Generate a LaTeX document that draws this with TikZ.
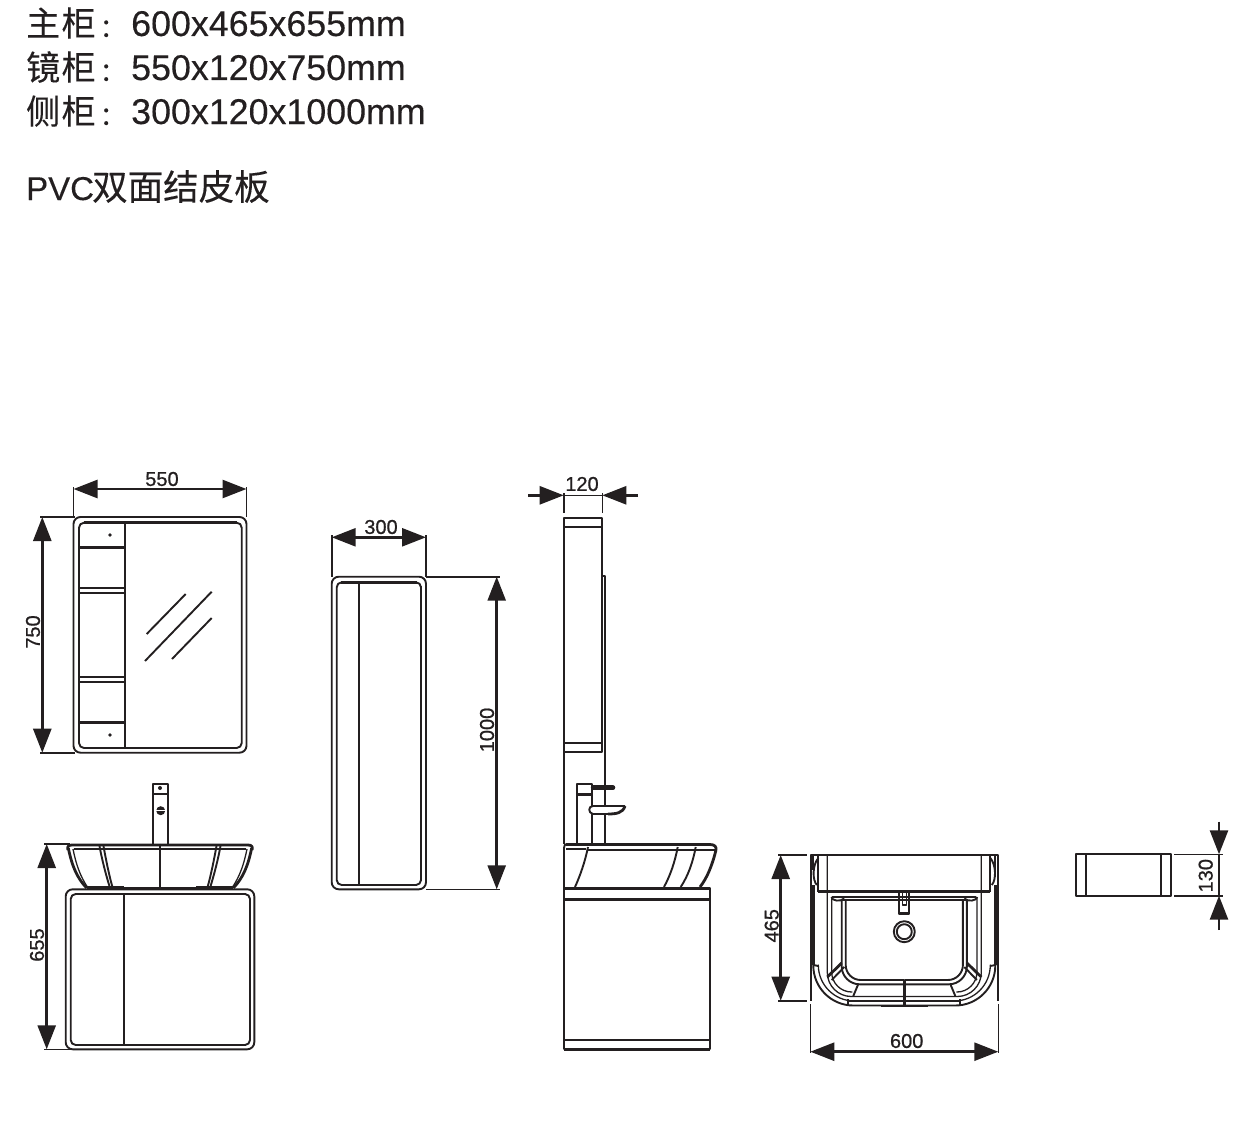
\documentclass[tikz,border=0pt]{standalone}
\usepackage{fontspec}
\usepackage{xcolor}
\setmainfont{Liberation Sans}
\newfontfamily\headfont[FakeBold=0.25]{Liberation Sans}
\newfontfamily\dimfont[FakeBold=0.8]{Liberation Sans}
\newfontfamily\cjk[FakeBold=0.25]{Noto Sans CJK SC}
\newcommand{\headcolon}{\hspace{4pt}\raisebox{-1pt}{\fontsize{26}{26}\selectfont ：}}
\usetikzlibrary{arrows.meta}
\definecolor{printblack}{HTML}{231F20}
\tikzset{
  dimtip/.tip={Triangle[length=24pt,width=18pt]},
  dimline/.style={line width=2.6pt, {dimtip}-{dimtip}},
  dimhalf/.style={line width=2.6pt, -{dimtip}},
  dimext/.style={line width=1.6pt},
  dimtext/.style={font=\dimfont\fontsize{20}{20}\selectfont, inner sep=0pt},
  headtext/.style={font=\headfont\fontsize{35.8}{36}\selectfont, anchor=base west, inner sep=0pt},
  cnhead/.style={font=\cjk\fontsize{34}{34}\selectfont, anchor=base west, inner sep=0pt},
  part/.style={line width=1.9pt},
  heavy/.style={line width=2.8pt},
  fine/.style={line width=1.3pt}
}

\begin{document}
\begin{tikzpicture}[x=1pt, y=-1pt, color=printblack, line join=round]
  \useasboundingbox (0,0) rectangle (1253,1124);

  % Heading lines
  \node[cnhead] (mainname) at (26,36) {主\hspace{1.5pt}柜\headcolon};
  \node[headtext] (mainsize) at (131,36) {600x465x655mm};
  \node[cnhead] (mirrorname) at (26,80) {镜\hspace{1.5pt}柜\headcolon};
  \node[headtext] (mirrorsize) at (131,80) {550x120x750mm};
  \node[cnhead] (sidename) at (26,124) {侧\hspace{1.5pt}柜\headcolon};
  \node[headtext] (sidesize) at (131,124) {300x120x1000mm};
  \node[headtext, font=\headfont\fontsize{33}{33}\selectfont] (boardpvc) at (26,200) {PVC};
  \node[cnhead, font=\cjk\fontsize{35.5}{35.5}\selectfont] (boardname) at (92,200) {双面结皮板};

  % Mirror cabinet, front
  \draw[part, rounded corners=7pt] (73.5,517) rectangle (246.5,752.7);
  \draw[part, rounded corners=5pt] (79,522.7) rectangle (241.7,748);
  \draw[heavy] (84,522.7) -- (237,522.7);
  \draw[heavy] (84,748) -- (237,748);
  \draw[part] (125,522.7) -- (125,748);
  \draw[heavy] (79,547.3) -- (125,547.3);
  \draw[part] (79,588) -- (125,588);
  \draw[part] (79,592.7) -- (125,592.7);
  \draw[part] (79,677.3) -- (125,677.3);
  \draw[part] (79,681.7) -- (125,681.7);
  \draw[heavy] (79,722.7) -- (125,722.7);
  \fill (110,535) circle (1.8);
  \fill (110,735) circle (1.8);
  \draw[part] (146.7,634) -- (185.7,594);
  \draw[part] (145,661) -- (211.7,591.7);
  \draw[part] (172,659) -- (211.7,618);

  % Mirror cabinet dimensions
  \coordinate (mirrorwa) at (73.5,489);
  \coordinate (mirrorwb) at (246.5,489);
  \coordinate (mirrorha) at (42.3,517);
  \coordinate (mirrorhb) at (42.3,752.7);
  \draw[dimext] (73.5,487) -- (73.5,517);
  \draw[dimext] (246.5,487) -- (246.5,517);
  \draw[dimext] (40,517) -- (75,517);
  \draw[dimext] (40,752.7) -- (75,752.7);
  \draw[dimline] (mirrorwa) -- (mirrorwb);
  \draw[dimline] (mirrorha) -- (mirrorhb);
  \node[dimtext] (mirrorwlabel) at (162,479) {550};
  \node[dimtext, rotate=90] (mirrorhlabel) at (33,632) {750};

  % Main cabinet, front
  \draw[part, rounded corners=7pt] (65.7,889.3) rectangle (254.3,1049.3);
  \draw[part, rounded corners=5pt] (70.7,894) rectangle (250,1045);
  \draw[heavy] (75,894) -- (246,894);
  \draw[heavy] (75,1045) -- (246,1045);
  \draw[part] (124.3,894) -- (124.3,1045);

  % Basin, front
  \foreach \s in {1,-1} {
    \begin{scope}[shift={(160,0)}, xscale=\s]
      \draw[heavy] (0,845) -- (88,845) .. controls (92,845) and (93,847) .. (92,850);
      \draw[heavy] (91.7,848) .. controls (88,866) and (83,878) .. (73.3,888);
      \draw[fine] (87,849) .. controls (84,864) and (80,876) .. (72,888);
      \draw[fine] (0,849) -- (86,849);
      \draw[part] (60.7,845) .. controls (58,860) and (54,875) .. (50,888);
      \draw[part] (56.7,845) .. controls (54,860) and (51,875) .. (47.3,888);
      \draw[heavy] (36,887.7) -- (73,887.7);
      \draw[part] (0,888) -- (36,888);
      \draw[heavy] (0,849) -- (12,849);
    \end{scope}
  }
  \draw[part] (160,845) -- (160,888);

  % Faucet, front
  \draw[part] (152.7,844) -- (152.7,784.3) -- (168.3,784.3) -- (168.3,844);
  \draw[heavy] (152.7,794) -- (168.3,794);
  \fill (160,788) circle (2);
  \fill (160.7,810.7) circle (4.5);
  \draw[line width=1pt, white] (155,810) -- (166,810);

  % Dimension of main cabinet
  \coordinate (mainha) at (46.7,844);
  \coordinate (mainhb) at (46.7,1049.3);
  \draw[dimext] (44,844) -- (70,844);
  \draw[dimext] (44,1049.3) -- (70,1049.3);
  \draw[dimline] (mainha) -- (mainhb);
  \node[dimtext, rotate=90] (mainhlabel) at (37,945) {655};

  % Side cabinet, front
  \draw[part, rounded corners=7pt] (331.7,576.7) rectangle (426,889.3);
  \draw[part, rounded corners=5pt] (336.7,582.3) rectangle (421,885);
  \draw[heavy] (341,582.3) -- (417,582.3);
  \draw[heavy] (341,885) -- (417,885);
  \draw[heavy] (421,586) -- (421,881);
  \draw[part] (359.3,582.3) -- (359.3,885);

  % Side cabinet dimensions
  \coordinate (sidewa) at (331.7,537.3);
  \coordinate (sidewb) at (426,537.3);
  \coordinate (sideha) at (496.7,576.7);
  \coordinate (sidehb) at (496.7,889.3);
  \draw[dimext] (331.7,535) -- (331.7,577);
  \draw[dimext] (426,535) -- (426,577);
  \draw[dimext] (426,576.7) -- (500,576.7);
  \draw[dimext] (426,889.3) -- (500,889.3);
  \draw[dimline] (sidewa) -- (sidewb);
  \draw[dimline] (sideha) -- (sidehb);
  \node[dimtext] (sidewlabel) at (381,527) {300};
  \node[dimtext, rotate=90] (sidehlabel) at (487,730) {1000};

  % Side view: mirror and side cabinets
  \draw[part] (563.7,517.7) rectangle (602.3,752.3);
  \draw[part] (563.7,526.7) -- (602.3,526.7);
  \draw[part] (563.7,742.7) -- (602.3,742.7);
  \draw[part] (602.3,576) -- (604.8,576) -- (604.8,806);
  \draw[part] (564,752.3) -- (564,844);

  % Side view: faucet
  \draw[part] (576.7,844) -- (576.7,784.3) -- (591.7,784.3) -- (591.7,806);
  \draw[part] (591.7,814) -- (591.7,844);
  \draw[part] (604.8,814) -- (604.8,844);
  \draw[line width=4.5pt, line cap=round] (593,787.7) -- (613,787.7);
  \draw[heavy] (577,794.3) -- (592,794.3);
  \draw[part] (625,806) -- (593,806) .. controls (588,806) and (588,813) .. (593,814) -- (608,814);
  \draw[heavy] (608,814) .. controls (616,814) and (623,813) .. (625,806);

  % Side view: basin and cabinet
  \draw[heavy] (566,844.5) -- (710,844.5) .. controls (715,844.5) and (716.5,847) .. (716,850);
  \draw[heavy] (716,850) .. controls (712,866) and (707,878) .. (700,887);
  \draw[part] (564,848) .. controls (564,845) and (565,844) .. (567,844);
  \draw[part] (566,849) -- (586,849);
  \draw[fine] (588,850) -- (716,850);
  \draw[heavy] (655,850) -- (678,850);
  \draw[part] (588,847) .. controls (585,862) and (580,876) .. (575,887);
  \draw[part] (677.7,847) .. controls (675,862) and (670,876) .. (664,887);
  \draw[part] (695.7,847) .. controls (693,862) and (688,876) .. (680.7,887);
  \draw[part] (564,848) -- (564,888);
  \draw[heavy] (564,888.3) -- (710,888.3);
  \draw[part] (564,888.3) rectangle (710,1049.3);
  \draw[heavy] (564,899.3) -- (710,899.3);
  \draw[heavy] (564,1049.3) -- (710,1049.3);
  \draw[part] (564,1040) -- (710,1040);

  % Dimension of side view
  \coordinate (depthfreea) at (528,495.3);
  \coordinate (depthtipa) at (563.7,495.3);
  \coordinate (depthfreeb) at (638,495.3);
  \coordinate (depthtipb) at (602.3,495.3);
  \draw[dimext] (563.7,493) -- (563.7,513);
  \draw[dimext] (602.3,493) -- (602.3,513);
  \draw[dimext] (563.7,495.3) -- (602.3,495.3);
  \draw[dimhalf] (depthfreea) -- (depthtipa);
  \draw[dimhalf] (depthfreeb) -- (depthtipb);
  \node[dimtext] (depthlabel) at (582,484) {120};

  % Top view of main cabinet
  \foreach \s in {1,-1} {
    \begin{scope}[shift={(904.3,0)}, xscale=\s]
      \draw[part] (0,855) -- (93.6,855) -- (93.6,1000.7);
      \draw[part] (91,855) -- (91,870);
      \draw[part, rounded corners=40pt] (91,885) -- (91,1005.5) -- (0,1005.5);
      \draw[heavy] (91,885) -- (91,965);
      \draw[part] (86,855) -- (86,892);
      \draw[part] (91,965) -- (86,966);
      \draw[fine, rounded corners=36pt] (86,966) -- (86,1001) -- (0,1001);
      \draw[fine, rounded corners=24pt] (77,855) -- (77,996.5) -- (0,996.5);
      \draw[fine, rounded corners=20pt] (72.6,897) -- (72.6,992) -- (52,992);
      \draw[part, rounded corners=18pt] (62.6,900) -- (62.6,984.3) -- (0,984.3);
      \draw[part, rounded corners=15pt] (58.6,900) -- (58.6,980) -- (0,980);
      \draw[heavy] (0,891.7) -- (86,891.7);
      \draw[part] (0,896.7) -- (72,896.7);
      \draw[part] (62,900) -- (0,900);
      \draw[part] (60,898.5) .. controls (64,902) and (72,901) .. (73,897);
      \draw[heavy] (0,1001) -- (55,1001);
      \draw[heavy] (62.6,963) -- (77,977);
      \draw[part] (60,967) -- (72.6,980);
      \draw[part] (46,984) -- (51,996);
      \draw[part] (56,999) -- (56,1005);
      \draw[part] (86,858) .. controls (92,865) and (92,880) .. (87.5,885);
    \end{scope}
  }
  \draw[heavy] (904.3,980) -- (904.3,1005.7);
  \draw[heavy] (881,1006) -- (928,1006);
  % Drain and overflow
  \draw[part] (904.3,931.7) circle (10.5);
  \draw[part] (904.3,931.7) circle (7.5);
  \draw[part] (899.3,893) -- (899.3,914) -- (909.3,914) -- (909.3,893);
  \draw[fine] (902.8,893) -- (902.8,905) -- (906.7,905) -- (906.7,893);
  \draw[heavy] (899.3,913.5) -- (909.3,913.5);

  % Top view dimensions
  \coordinate (topha) at (780.7,855);
  \coordinate (tophb) at (780.7,1000.7);
  \coordinate (topwa) at (810.3,1051.7);
  \coordinate (topwb) at (998.3,1051.7);
  \draw[dimext] (778,855) -- (806.7,855);
  \draw[dimext] (778,1000.7) -- (806.7,1000.7);
  \draw[dimext] (810.3,1004) -- (810.3,1053);
  \draw[dimext] (998.3,1004) -- (998.3,1053);
  \draw[dimline] (topha) -- (tophb);
  \draw[dimline] (topwa) -- (topwb);
  \node[dimtext, rotate=90] (tophlabel) at (771.7,925.7) {465};
  \node[dimtext] (topwlabel) at (906.7,1041) {600};

  % Wall strip
  \draw[part] (1075.7,854.3) rectangle (1170.7,895.7);
  \draw[part] (1086,854.3) -- (1086,895.7);
  \draw[part] (1160.7,854.3) -- (1160.7,895.7);
  \coordinate (stripfreea) at (1219,821.7);
  \coordinate (striptipa) at (1219,854.3);
  \coordinate (stripfreeb) at (1219,930);
  \coordinate (striptipb) at (1219,895.7);
  \draw[dimext] (1174,854.3) -- (1222.7,854.3);
  \draw[dimext] (1174,895.7) -- (1222.7,895.7);
  \draw[dimext] (striptipa) -- (striptipb);
  \draw[dimhalf] (stripfreea) -- (striptipa);
  \draw[dimhalf] (stripfreeb) -- (striptipb);
  \node[dimtext, rotate=90] (striplabel) at (1205.7,875.7) {130};
\end{tikzpicture}
\end{document}
